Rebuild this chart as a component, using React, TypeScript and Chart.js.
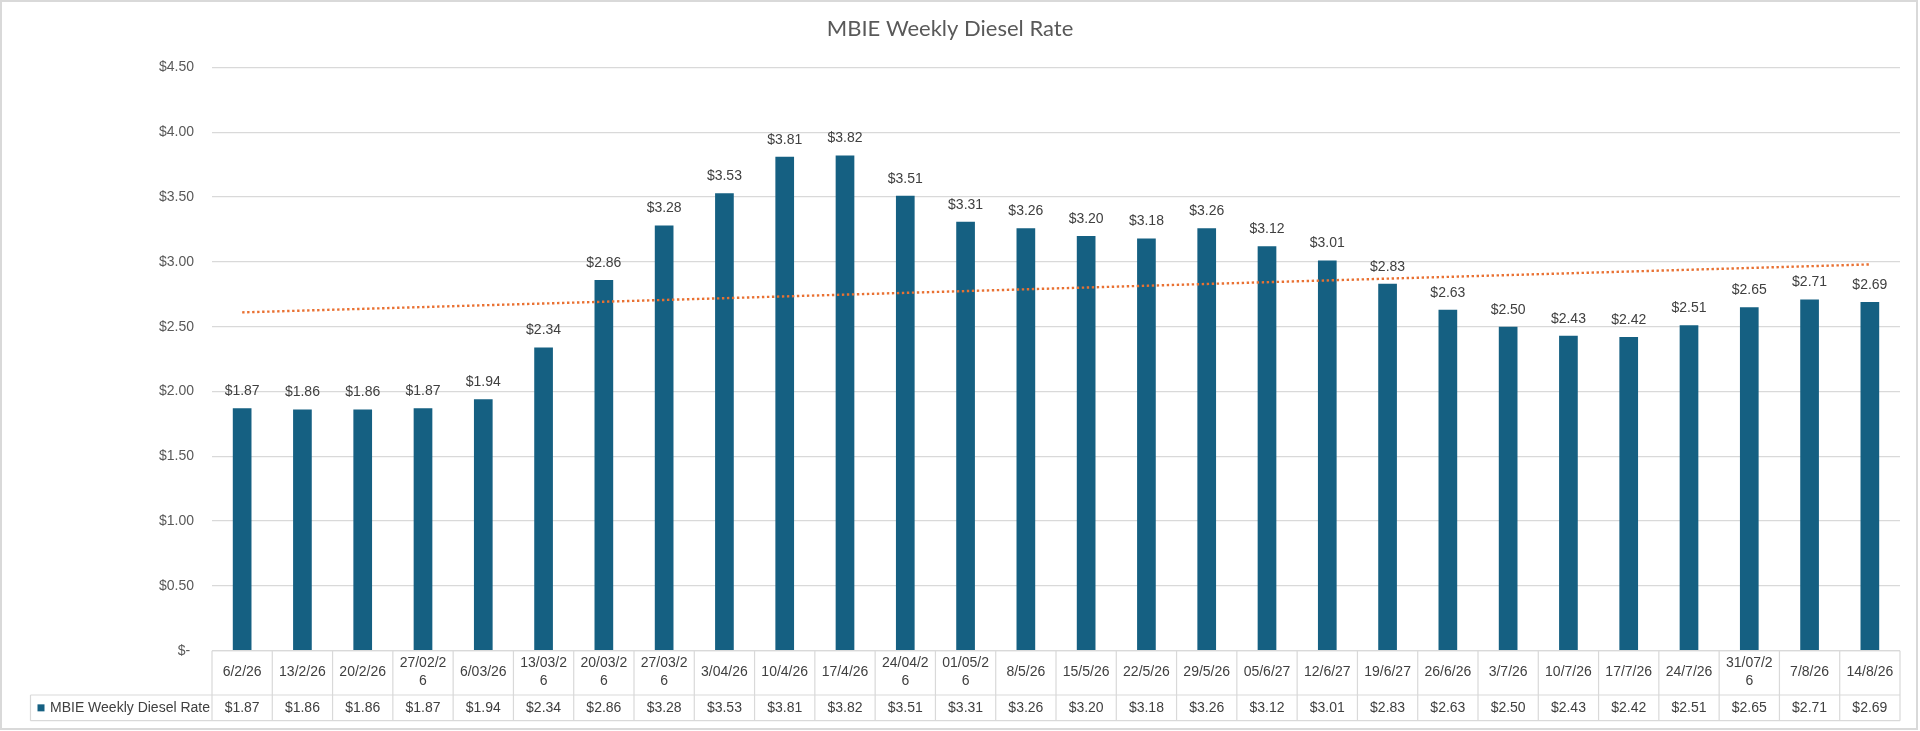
import React, { useEffect, useRef } from 'react';
import { Chart, registerables } from 'chart.js';

Chart.register(...registerables);

// week labels as shown in the data table (Excel wraps the long ones)
const weekLabels: (string | string[])[] = [
  '6/2/26', '13/2/26', '20/2/26', ['27/02/2', '6'], '6/03/26', ['13/03/2', '6'], ['20/03/2', '6'],
  ['27/03/2', '6'], '3/04/26', '10/4/26', '17/4/26', ['24/04/2', '6'], ['01/05/2', '6'], '8/5/26',
  '15/5/26', '22/5/26', '29/5/26', '05/6/27', '12/6/27', '19/6/27', '26/6/26', '3/7/26',
  '10/7/26', '17/7/26', '24/7/26', ['31/07/2', '6'], '7/8/26', '14/8/26',
];

const dieselRate = [
  1.87, 1.86, 1.86, 1.87, 1.94, 2.34, 2.86, 3.28, 3.53, 3.81, 3.82, 3.51, 3.31, 3.26,
  3.2, 3.18, 3.26, 3.12, 3.01, 2.83, 2.63, 2.5, 2.43, 2.42, 2.51, 2.65, 2.71, 2.69,
];

// linear trendline at the first and last week
const trendStart = 2.61;
const trendEnd = 2.98;

const yTicks = [0, 0.5, 1, 1.5, 2, 2.5, 3, 3.5, 4, 4.5];

const seriesName = 'MBIE Weekly Diesel Rate';
const BAR = '#156082';
const TREND = '#E97132';
const GRID = '#d9d9d9';
const TEXT = '#404040';
const FONT = "'Liberation Sans', Arial, sans-serif";

const money = (v: number) => (v === 0 ? '$- ' : '$' + v.toFixed(2));

const frame = {
  id: 'frame',
  beforeDraw(chart: any) {
    const { ctx, width, height } = chart;
    ctx.save();
    ctx.fillStyle = '#fff';
    ctx.fillRect(0, 0, width, height);
    ctx.strokeStyle = GRID;
    ctx.lineWidth = 2;
    ctx.strokeRect(1, 1, width - 4, height - 3);
    ctx.restore();
  },
};

const barLabels = {
  id: 'barLabels',
  afterDatasetsDraw(chart: any) {
    const { ctx } = chart;
    const meta = chart.getDatasetMeta(0);
    ctx.save();
    ctx.font = `14px ${FONT}`;
    ctx.fillStyle = TEXT;
    ctx.textAlign = 'center';
    ctx.textBaseline = 'middle';
    meta.data.forEach((bar: any, i: number) => {
      ctx.fillText(money(dieselRate[i]), bar.x, bar.y - 17);
    });
    ctx.restore();
  },
};

// data table under the axis: cell borders, legend key and the values row
const dataTable = {
  id: 'dataTable',
  afterDraw(chart: any) {
    const { ctx } = chart;
    const x = chart.scales.x;
    const top = x.top;
    const mid = x.top + 44.3;
    const bottom = x.bottom;
    const half = (x.getPixelForValue(1) - x.getPixelForValue(0)) / 2;
    const keyLeft = 30.5;

    ctx.save();
    ctx.strokeStyle = GRID;
    ctx.lineWidth = 1.2;
    ctx.beginPath();
    ctx.moveTo(x.left, top);
    ctx.lineTo(x.right, top);
    ctx.moveTo(keyLeft, mid);
    ctx.lineTo(x.right, mid);
    ctx.moveTo(keyLeft, bottom);
    ctx.lineTo(x.right, bottom);
    ctx.moveTo(keyLeft, mid);
    ctx.lineTo(keyLeft, bottom);
    for (let i = 0; i < dieselRate.length; i++) {
      const bx = x.getPixelForValue(i) - half;
      ctx.moveTo(bx, top);
      ctx.lineTo(bx, bottom);
    }
    ctx.moveTo(x.right, top);
    ctx.lineTo(x.right, bottom);
    ctx.stroke();

    const rowY = (mid + bottom) / 2;
    ctx.fillStyle = BAR;
    ctx.fillRect(37.5, rowY - 3.5, 7, 7);

    ctx.font = `14px ${FONT}`;
    ctx.fillStyle = TEXT;
    ctx.textBaseline = 'middle';
    ctx.textAlign = 'left';
    ctx.fillText(seriesName, 50, rowY);
    ctx.textAlign = 'center';
    dieselRate.forEach((v, i) => {
      ctx.fillText(money(v), x.getPixelForValue(i), rowY);
    });
    ctx.restore();
  },
};

const App = () => {
  const canvasRef = useRef<HTMLCanvasElement>(null);

  useEffect(() => {
    document.body.style.margin = '0';
    if (!canvasRef.current) return;

    const chart = new Chart(canvasRef.current, {
      type: 'bar',
      data: {
        labels: weekLabels,
        datasets: [
          {
            type: 'bar',
            label: seriesName,
            data: dieselRate,
            backgroundColor: BAR,
            categoryPercentage: 1,
            barPercentage: 0.31,
            order: 2,
          },
          {
            type: 'line',
            label: 'Linear trend',
            data: weekLabels.map((_, i) =>
              i === 0 ? trendStart : i === weekLabels.length - 1 ? trendEnd : null
            ),
            borderColor: TREND,
            borderWidth: 2.4,
            borderDash: [2.4, 2.6],
            pointRadius: 0,
            spanGaps: true,
            fill: false,
            order: 1,
          },
        ],
      },
      options: {
        responsive: false,
        devicePixelRatio: 1,
        animation: false,
        layout: { padding: { left: 0, right: 20, top: 0, bottom: 10.3 } },
        plugins: {
          legend: { display: false },
          tooltip: { enabled: false },
          title: {
            display: true,
            text: 'MBIE Weekly Diesel Rate',
            color: '#595959',
            font: { family: 'Lato', size: 22, weight: 'normal' },
            padding: { top: 16, bottom: 25 },
          },
        },
        scales: {
          x: {
            grid: { display: false },
            border: { display: false },
            ticks: {
              color: TEXT,
              font: { family: FONT, size: 14, lineHeight: '18px' },
              padding: 4.3,
              crossAlign: 'center',
              maxRotation: 0,
              autoSkip: false,
            },
            afterFit: (scale: any) => {
              scale.height = 70;
            },
          },
          y: {
            min: 0,
            max: 4.5,
            afterBuildTicks: (scale: any) => {
              scale.ticks = yTicks.map((value) => ({ value }));
            },
            grid: { color: GRID, lineWidth: 1.2, drawTicks: false },
            border: { display: false },
            ticks: {
              color: '#595959',
              font: { family: FONT, size: 14 },
              padding: 18,
              callback: (v: any) => money(Number(v)),
            },
            afterFit: (scale: any) => {
              scale.width = 212;
            },
          },
        },
      },
      plugins: [frame, barLabels, dataTable],
    });

    return () => {
      chart.destroy();
    };
  }, []);

  return <canvas ref={canvasRef} width={1920} height={731} />;
};

export default App;
